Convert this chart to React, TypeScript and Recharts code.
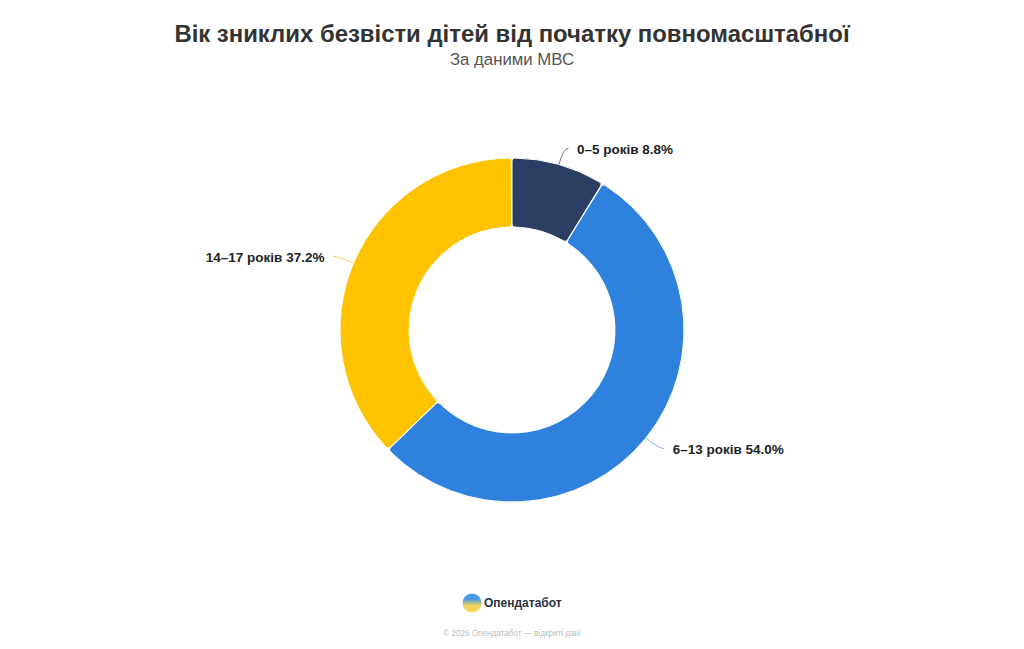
import React from "react";
import { PieChart, Pie, Cell } from "recharts";

const categories = ["0–5 років", "6–13 років", "14–17 років"];
const shares = [8.8, 54.0, 37.2];
const colors = ["#2C3E63", "#2E82DE", "#FFC300"];
const lineColors = ["#777777", "#8FB6E4", "#F5D565"];
const data = categories.map((name, i) => ({ name, value: shares[i] }));

const RAD = Math.PI / 180;
const FONT = "'Liberation Sans', Arial, sans-serif";

function renderLabel(props: any) {
  const { cx, cy, midAngle, outerRadius, index, name, value } = props;
  const sin = Math.sin(-midAngle * RAD);
  const cos = Math.cos(-midAngle * RAD);
  const sx = cx + outerRadius * cos;
  const sy = cy + outerRadius * sin;
  const mx = cx + (outerRadius + 17) * cos;
  const my = cy + (outerRadius + 17) * sin;
  const dir = cos >= 0 ? 1 : -1;
  const ex = mx + dir * 5;
  const tx = ex + dir * 8.5;
  return (
    <g>
      <path
        d={`M${sx},${sy}Q${mx},${my} ${ex},${my}`}
        fill="none"
        stroke={lineColors[index]}
        strokeWidth={1}
      />
      <text
        x={tx}
        y={my}
        dy={5.5}
        textAnchor={dir > 0 ? "start" : "end"}
        fontFamily={FONT}
        fontSize={13.5}
        fontWeight={700}
        fill="#222222"
      >
        {`${name} ${value.toFixed(1)}%`}
      </text>
    </g>
  );
}

export default function App() {
  return (
    <div style={{ position: "absolute", left: 0, top: 0, width: 1024, height: 649, background: "#fff", fontFamily: FONT, overflow: "hidden" }}>
      <div style={{ position: "absolute", left: 0, width: 1024, top: 19, textAlign: "center", fontSize: 23.9, lineHeight: "30px", fontWeight: 700, color: "#333333" }}>
        Вік зниклих безвісти дітей від початку повномасштабної
      </div>
      <div style={{ position: "absolute", left: 0, width: 1024, top: 50, textAlign: "center", fontSize: 16.8, lineHeight: "20px", color: "#555555" }}>
        За даними МВС
      </div>
      <PieChart width={1024} height={649} margin={{ top: 0, right: 0, bottom: 0, left: 0 }} style={{ position: "absolute", left: 0, top: 0 }}>
        <Pie
          data={data}
          dataKey="value"
          nameKey="name"
          cx={512}
          cy={330}
          innerRadius={103}
          outerRadius={172}
          startAngle={90}
          endAngle={-270}
          cornerRadius={3}
          paddingAngle={0.2}
          stroke="#ffffff"
          strokeWidth={1}
          label={renderLabel}
          labelLine={false}
          isAnimationActive={false}
        >
          {data.map((d, i) => (
            <Cell key={d.name} fill={colors[i]} />
          ))}
        </Pie>
      </PieChart>
      <svg width={22} height={22} style={{ position: "absolute", left: 461, top: 592 }} viewBox="0 0 22 22">
        <defs>
          <linearGradient id="logoFill" x1="0" y1="0" x2="0" y2="1">
            <stop offset="0.3" stopColor="#4A9BE0" />
            <stop offset="0.65" stopColor="#F6D65A" />
          </linearGradient>
        </defs>
        <circle cx="11" cy="11" r="9.5" fill="url(#logoFill)" />
      </svg>
      <div style={{ position: "absolute", left: 484, top: 595, fontSize: 12, lineHeight: "16px", fontWeight: 700, color: "#2b3140" }}>
        Опендатабот
      </div>
      <div style={{ position: "absolute", left: 0, width: 1024, top: 628, textAlign: "center", fontSize: 8.15, lineHeight: "11px", color: "#bbbbbb" }}>
        © 2026 Опендатабот — відкриті дані
      </div>
    </div>
  );
}
